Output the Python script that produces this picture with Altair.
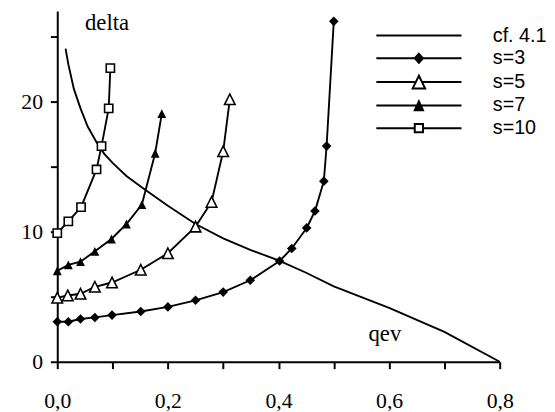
import altair as alt
import pandas as pd

# ---- data ----
cf_x = [0.015, 0.02, 0.03, 0.042, 0.055, 0.071, 0.085, 0.10, 0.125, 0.157, 0.20, 0.25, 0.30, 0.35, 0.40, 0.45, 0.50, 0.60, 0.70, 0.80]
cf_y = [24.1, 22.9, 21.0, 19.5, 18.1, 16.9, 16.0, 15.3, 14.3, 13.3, 12.0, 10.6, 9.5, 8.6, 7.8, 6.85, 5.8, 4.15, 2.3, 0.0]

s3_x = [0.0, 0.02, 0.042, 0.068, 0.099, 0.151, 0.200, 0.250, 0.300, 0.349, 0.402, 0.424, 0.451, 0.466, 0.482, 0.487, 0.500]
s3_y = [3.08, 3.08, 3.29, 3.41, 3.59, 3.87, 4.22, 4.73, 5.36, 6.27, 7.76, 8.72, 10.3, 11.6, 13.9, 16.6, 26.2]

s5_x = [0.0, 0.019, 0.042, 0.068, 0.099, 0.151, 0.200, 0.250, 0.279, 0.300, 0.312]
s5_y = [4.93, 5.1, 5.23, 5.77, 6.1, 7.08, 8.35, 10.4, 12.3, 16.2, 20.2]

s7_x = [0.0, 0.02, 0.042, 0.068, 0.098, 0.125, 0.153, 0.177, 0.189]
s7_y = [7.0, 7.45, 7.7, 8.5, 9.45, 10.6, 12.1, 16.05, 19.1]

s10_x = [0.0, 0.02, 0.043, 0.071, 0.080, 0.093, 0.096]
s10_y = [9.9, 10.8, 11.9, 14.8, 16.6, 19.5, 22.6]

series_names = ["cf. 4.1", "s=3", "s=5", "s=7", "s=10"]
x_ticks = [0.0, 0.1, 0.2, 0.3, 0.4, 0.5, 0.6, 0.7, 0.8]
y_ticks = [0, 5, 10, 15, 20, 25]

# ---- tables ----
rows = []
for name, xs, ys in zip(series_names,
                        [cf_x, s3_x, s5_x, s7_x, s10_x],
                        [cf_y, s3_y, s5_y, s7_y, s10_y]):
    for i, (a, b) in enumerate(zip(xs, ys)):
        rows.append({"series": name, "i": i, "x": a, "y": b})
df = pd.DataFrame(rows)

FONT_SERIF = "Liberation Serif"
FONT_SANS = "Liberation Sans"

xscale = alt.Scale(domain=[0, 0.8], nice=False, zero=False)
yscale = alt.Scale(domain=[0, 27], nice=False, zero=False)

xenc = alt.X("x:Q", scale=xscale, axis=alt.Axis(
    values=x_ticks,
    labelExpr="round(datum.value*10) % 2 == 0 ? replace(format(datum.value, '.1f'), '.', ',') : ''",
    title="qev", titleAngle=0, titleX=332, titleY=-22, titleAlign="center",
    titleBaseline="alphabetic", titleFont=FONT_SERIF, titleFontSize=23,
    titleFontWeight="normal", labelPadding=22, labelFlush=False,
))
yenc = alt.Y("y:Q", scale=yscale, axis=alt.Axis(
    values=y_ticks,
    labelExpr="datum.value % 10 == 0 ? datum.label : ''",
    title="delta", titleAngle=0, titleX=50, titleY=19, titleAlign="center",
    titleBaseline="alphabetic", titleFont=FONT_SERIF, titleFontSize=23,
    titleFontWeight="normal", labelPadding=8,
))

base = alt.Chart(df)

lines = base.mark_line(color="black", strokeWidth=1.9).encode(
    x=xenc, y=yenc, detail="series:N", order=alt.Order("i:Q")
)

tri_path = "M0,-1L1,1L-1,1Z"

m3 = base.transform_filter(alt.datum.series == "s=3").mark_point(
    shape="diamond", filled=True, fill="black", stroke=None, size=95, opacity=1
).encode(x="x:Q", y="y:Q")
m5 = base.transform_filter(alt.datum.series == "s=5").mark_point(
    shape=tri_path, filled=False, fill="white", stroke="black", strokeWidth=1.6, size=115, opacity=1
).encode(x="x:Q", y="y:Q")
m7 = base.transform_filter(alt.datum.series == "s=7").mark_point(
    shape=tri_path, filled=True, fill="black", stroke=None, size=80, opacity=1
).encode(x="x:Q", y="y:Q")
m10 = base.transform_filter(alt.datum.series == "s=10").mark_point(
    shape="square", filled=False, fill="white", stroke="black", strokeWidth=1.6, size=70, opacity=1
).encode(x="x:Q", y="y:Q")

# legend symbols: line + marker drawn as custom paths (unit = symbol radius)
L = "7.2"
leg_paths = [
    f"M-{L},0H{L}",
    f"M-{L},0H{L}M0,-0.75L0.7,0L0,0.75L-0.7,0Z",
    f"M-{L},0H-0.51M0.51,0H{L}M0,-1.05L1.05,1.1L-1.05,1.1Z",
    f"M-{L},0H{L}M0,-0.72L0.7,0.78L-0.7,0.78Z",
    f"M-{L},0H-0.7M0.7,0H{L}M-0.7,-0.7H0.7V0.7H-0.7Z",
]
leg_fills = ["black", "black", "white", "black", "white"]
leg_strokes = ["black"] * 5

legend = alt.Legend(
    orient="none", legendX=357, legendY=15, title=None, padding=0,
    symbolSize=144, labelOffset=65, labelFont=FONT_SANS, labelFontSize=20,
    labelColor="black", rowPadding=3, symbolStrokeWidth=2,
    symbolOpacity=1, labelLimit=200,
)

leg = base.transform_filter("datum.i > 1000").mark_point(
    strokeWidth=2, opacity=1
).encode(
    shape=alt.Shape("series:N", scale=alt.Scale(domain=series_names, range=leg_paths), legend=legend),
    fill=alt.Fill("series:N", scale=alt.Scale(domain=series_names, range=leg_fills), legend=legend),
    stroke=alt.Stroke("series:N", scale=alt.Scale(domain=series_names, range=leg_strokes), legend=legend),
)

chart = alt.layer(lines, m3, m5, m7, m10, leg).properties(
    width=449, height=356,
    autosize=alt.AutoSizeParams(type="none"),
    padding={"left": 50, "top": 0, "right": 48, "bottom": 48},
).configure_view(stroke=None).configure_axis(
    grid=False, domainColor="black", domainWidth=2, tickColor="black",
    tickWidth=2, tickSize=7, labelColor="black", labelFont=FONT_SERIF,
    labelFontSize=22, titleColor="black",
)

chart.save("out.html", embed_options={"renderer": "svg", "actions": False})
